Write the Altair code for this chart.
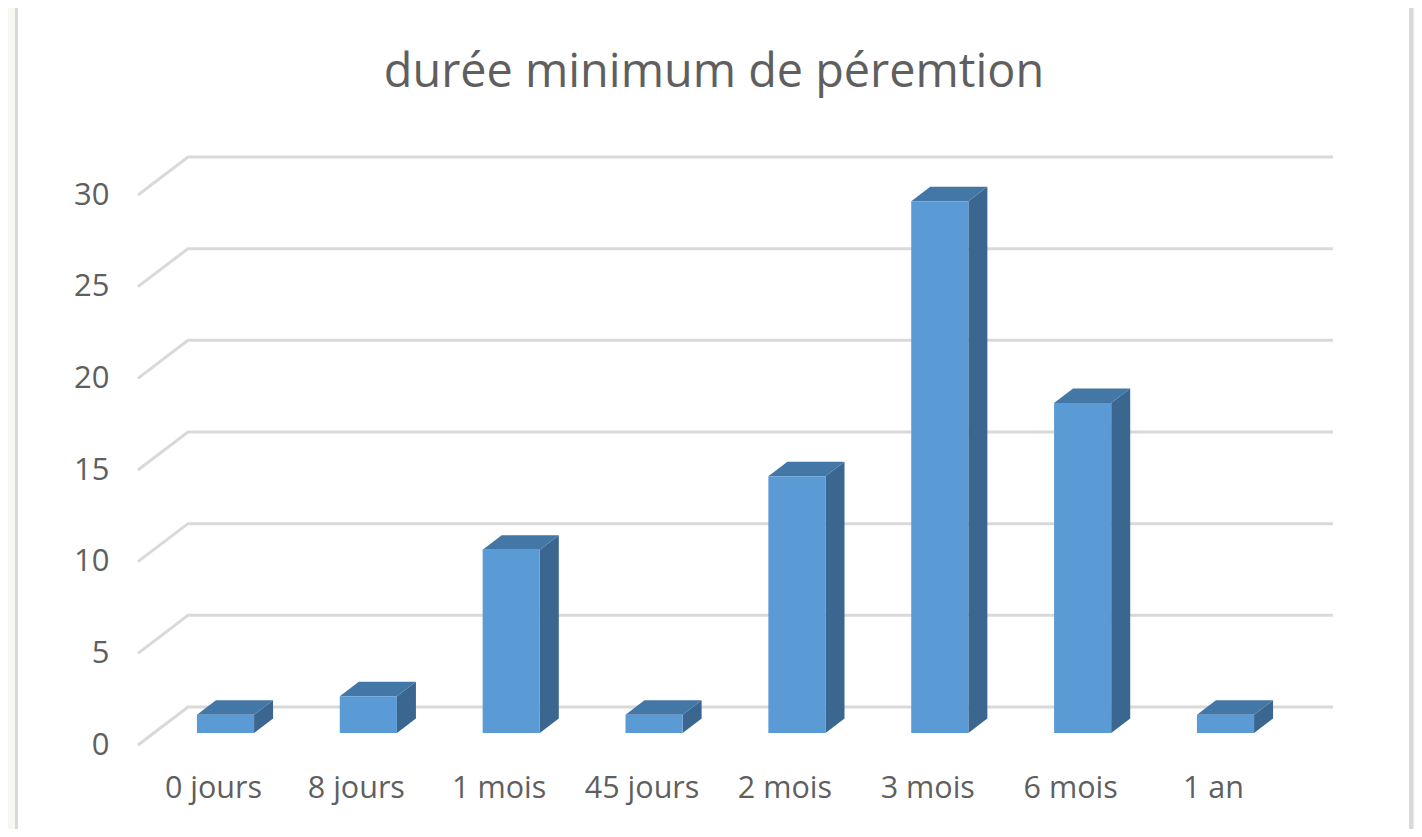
import altair as alt
import pandas as pd

title_text = "durée minimum de péremtion"
categories = ["0 jours", "8 jours", "1 mois", "45 jours", "2 mois", "3 mois", "6 mois", "1 an"]
values = [1, 2, 10, 1, 14, 29, 18, 1]
y_ticks = [0, 5, 10, 15, 20, 25, 30]

TEXT = "#5f5f5f"
GRID = "#d9d9d9"
FRONT = "#5b9bd5"
TOP = "#4377a6"
SIDE = "#3a6690"
FONT = "Open Sans"

X0, X1 = -0.525, 7.84
Y_MAX = 32.073
WALL_DX, WALL_DY = 0.35, 2.073
BAR_SHIFT, BAR_HALF = 0.0875, 0.2
BAR_BASE = 0.6545
DEPTH_DX, DEPTH_DY = 0.133, 0.79

x_scale = alt.Scale(domain=[X0, X1], nice=False, zero=False)
y_scale = alt.Scale(domain=[0, Y_MAX], nice=False, zero=False)

grid_rows = []
for v in y_ticks:
    grid_rows += [
        {"v": v, "o": 0, "x": X0, "y": v},
        {"v": v, "o": 1, "x": X0 + WALL_DX, "y": v + WALL_DY},
        {"v": v, "o": 2, "x": X1, "y": v + WALL_DY},
    ]

front_rows, side_rows, top_rows = [], [], []
for i, v in enumerate(values):
    left = i + BAR_SHIFT - BAR_HALF
    right = i + BAR_SHIFT + BAR_HALF
    low = BAR_BASE
    high = BAR_BASE + v
    front_rows.append({"x": left, "x2": right, "y": low, "y2": high})
    side_rows += [
        {"c": i, "x": right, "y": low, "y2": high},
        {"c": i, "x": right + DEPTH_DX, "y": low + DEPTH_DY, "y2": high + DEPTH_DY},
    ]
    top_rows += [
        {"c": i, "x": left, "y": high, "y2": high},
        {"c": i, "x": left + DEPTH_DX, "y": high, "y2": high + DEPTH_DY},
        {"c": i, "x": right, "y": high, "y2": high + DEPTH_DY},
        {"c": i, "x": right + DEPTH_DX, "y": high + DEPTH_DY, "y2": high + DEPTH_DY},
    ]

label_expr = "[" + ",".join(f"'{c}'" for c in categories) + "][round(datum.value)]"

grid = alt.Chart(pd.DataFrame(grid_rows)).mark_line(
    color=GRID, strokeWidth=3, clip=False
).encode(
    x=alt.X("x:Q", scale=x_scale, title=None, axis=alt.Axis(
        values=list(range(len(categories))), labelExpr=label_expr, domain=False, ticks=False,
        grid=False, labelFont=FONT, labelFontSize=30.5, labelColor=TEXT, labelPadding=28,
        labelFlush=False, labelOverlap=False, labelAngle=0)),
    y=alt.Y("y:Q", scale=y_scale, title=None, axis=alt.Axis(
        values=y_ticks, domain=False, ticks=False, grid=False, labelFont=FONT,
        labelFontSize=31, labelColor=TEXT, labelPadding=29, labelFlush=False, labelOverlap=False)),
    detail="v:N",
    order="o:Q",
)


def area(rows, color):
    return alt.Chart(pd.DataFrame(rows)).mark_area(color=color, opacity=1, clip=False).encode(
        x=alt.X("x:Q", scale=x_scale),
        y=alt.Y("y:Q", scale=y_scale),
        y2="y2:Q",
        detail="c:N",
    )


side = area(side_rows, SIDE)
top = area(top_rows, TOP)
front = alt.Chart(pd.DataFrame(front_rows)).mark_rect(color=FRONT).encode(
    x=alt.X("x:Q", scale=x_scale),
    x2="x2:Q",
    y=alt.Y("y:Q", scale=y_scale),
    y2="y2:Q",
)


def strip(x, x2, color):
    return alt.Chart(pd.DataFrame({"a": [0]})).mark_rect(color=color, clip=False).encode(
        x=alt.value(x), x2=alt.value(x2), y=alt.value(-149), y2=alt.value(672)
    )


frame = [
    strip(-130, -123, "#f6f7f0"),
    strip(-123, -120, GRID),
    strip(1271, 1275, GRID),
    strip(1275, 1276, "#e8edd8"),
]

title_mark = alt.Chart(pd.DataFrame({"t": [title_text]})).mark_text(
    font=FONT, fontSize=46.8, color=TEXT, align="center", baseline="alphabetic"
).encode(text="t:N", x=alt.value(576), y=alt.value(-70))

chart = alt.layer(*frame, grid, side, top, front, title_mark).properties(
    width=1195,
    height=588,
    padding={"left": 130, "top": 149, "right": 81, "bottom": 84},
    autosize=alt.AutoSizeParams(type="none"),
    background="white",
).configure_view(stroke=None).resolve_scale(x="shared", y="shared")

chart.save("out.html", embed_options={"renderer": "svg", "actions": False})
